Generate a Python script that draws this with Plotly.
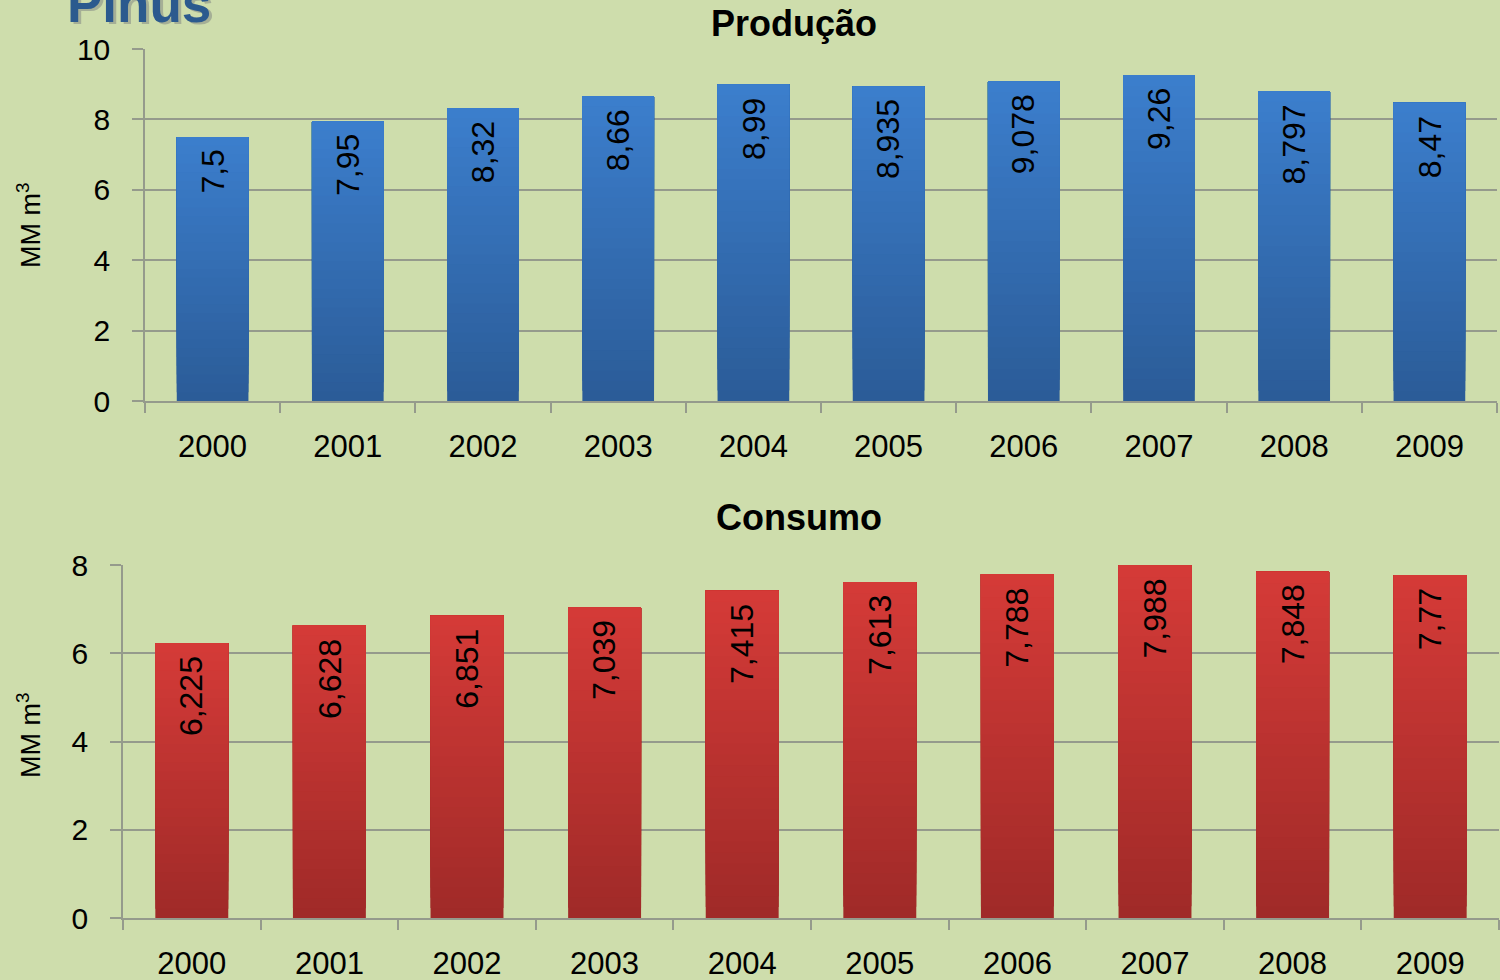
import plotly.graph_objects as go

years = ['2000', '2001', '2002', '2003', '2004', '2005', '2006', '2007', '2008', '2009']
producao = [7.5, 7.95, 8.32, 8.66, 8.99, 8.935, 9.078, 9.26, 8.797, 8.47]
consumo = [6.225, 6.628, 6.851, 7.039, 7.415, 7.613, 7.788, 7.988, 7.848, 7.77]
prod_ticks = [0, 2, 4, 6, 8, 10]
cons_ticks = [0, 2, 4, 6, 8]

W, H = 1500, 980
BG = '#CEDDAC'
GRID = '#959a8c'
FONT = 'Liberation Sans, Arial, sans-serif'


def px(x):
    return x / W


def py(y):
    return 1 - y / H


def lerp(c1, c2, t):
    return 'rgb(%d,%d,%d)' % tuple(round(a + (b - a) * t) for a, b in zip(c1, c2))


def fmt(v):
    return ('%g' % v).replace('.', ',')


fig = go.Figure()
N = 30
series = [
    (producao, 'x', 'y', (43, 92, 152), (60, 127, 206)),
    (consumo, 'x2', 'y2', (160, 42, 40), (214, 59, 56)),
]
for vals, xa, ya, dark, light in series:
    for k in range(N):
        f = k / N
        fig.add_trace(go.Bar(
            x=years,
            y=[v * (1 - f) for v in vals],
            base=[v * f for v in vals],
            xaxis=xa, yaxis=ya,
            marker=dict(color=lerp(dark, light, f), line=dict(width=0)),
            width=0.53,
            showlegend=False, hoverinfo='skip',
        ))

annotations = []
for vals, xa, ya in [(producao, 'x', 'y'), (consumo, 'x2', 'y2')]:
    for i, v in enumerate(vals):
        annotations.append(dict(
            x=i, y=v, xref=xa, yref=ya, text=fmt(v), showarrow=False,
            textangle=-90, yanchor='top', xanchor='center', yshift=-11,
            font=dict(family=FONT, size=32, color='black'),
        ))

# titles
annotations.append(dict(x=px(794), y=py(24), xref='paper', yref='paper', text='<b>Produção</b>',
                        showarrow=False, xanchor='center', yanchor='middle',
                        font=dict(family=FONT, size=36, color='black')))
annotations.append(dict(x=px(799), y=py(517), xref='paper', yref='paper', text='<b>Consumo</b>',
                        showarrow=False, xanchor='center', yanchor='middle',
                        font=dict(family=FONT, size=36, color='black')))
# y axis titles
for yc in (225, 735):
    annotations.append(dict(x=px(29), y=py(yc), xref='paper', yref='paper', text='MM m<sup>3</sup>',
                            showarrow=False, textangle=-90, xanchor='center', yanchor='middle',
                            font=dict(family=FONT, size=27, color='black')))
# Pinus (cut-off heading) with shadow
annotations.append(dict(x=px(68), y=py(6), xref='paper', yref='paper', text='<b>Pinus</b>',
                        showarrow=False, xanchor='left', yanchor='middle',
                        font=dict(family=FONT, size=53, color='rgba(90,90,110,0.35)')))
annotations.append(dict(x=px(65), y=py(3), xref='paper', yref='paper', text='<b>Pinus</b>',
                        showarrow=False, xanchor='left', yanchor='middle',
                        font=dict(family=FONT, size=53, color='#2B5A8E')))

xcommon = dict(type='category', tickson='boundaries', ticks='outside', ticklen=10,
               tickcolor=GRID, tickwidth=1.5, showline=True, linecolor=GRID, linewidth=1.5,
               showgrid=False, tickfont=dict(family=FONT, size=31, color='black'),
               ticklabelstandoff=17, tickangle=0, fixedrange=True, automargin=False)
ycommon = dict(ticks='outside', ticklen=11, tickcolor=GRID, tickwidth=1.5, showline=True,
               linecolor=GRID, linewidth=1.5, showgrid=True, gridcolor=GRID, gridwidth=1.5,
               zeroline=False, tickfont=dict(family=FONT, size=30, color='black'),
               ticklabelstandoff=16, fixedrange=True, automargin=False)

fig.update_layout(
    width=W, height=H,
    margin=dict(l=0, r=0, t=0, b=0, autoexpand=False),
    paper_bgcolor=BG, plot_bgcolor=BG,
    barmode='overlay',
    showlegend=False,
    xaxis=dict(domain=[px(145), px(1497)], anchor='y', **xcommon),
    yaxis=dict(domain=[py(401), py(49)], anchor='x', range=[0, 10], tickvals=prod_ticks, **ycommon),
    xaxis2=dict(domain=[px(123), px(1499)], anchor='y2', **xcommon),
    yaxis2=dict(domain=[py(918), py(565)], anchor='x2', range=[0, 8], tickvals=cons_ticks, **ycommon),
    annotations=annotations,
    font=dict(family=FONT),
)

fig.write_html('out.html', config={'displayModeBar': False},
               post_script="document.body.style.margin='0';document.body.style.background='%s';" % BG)
